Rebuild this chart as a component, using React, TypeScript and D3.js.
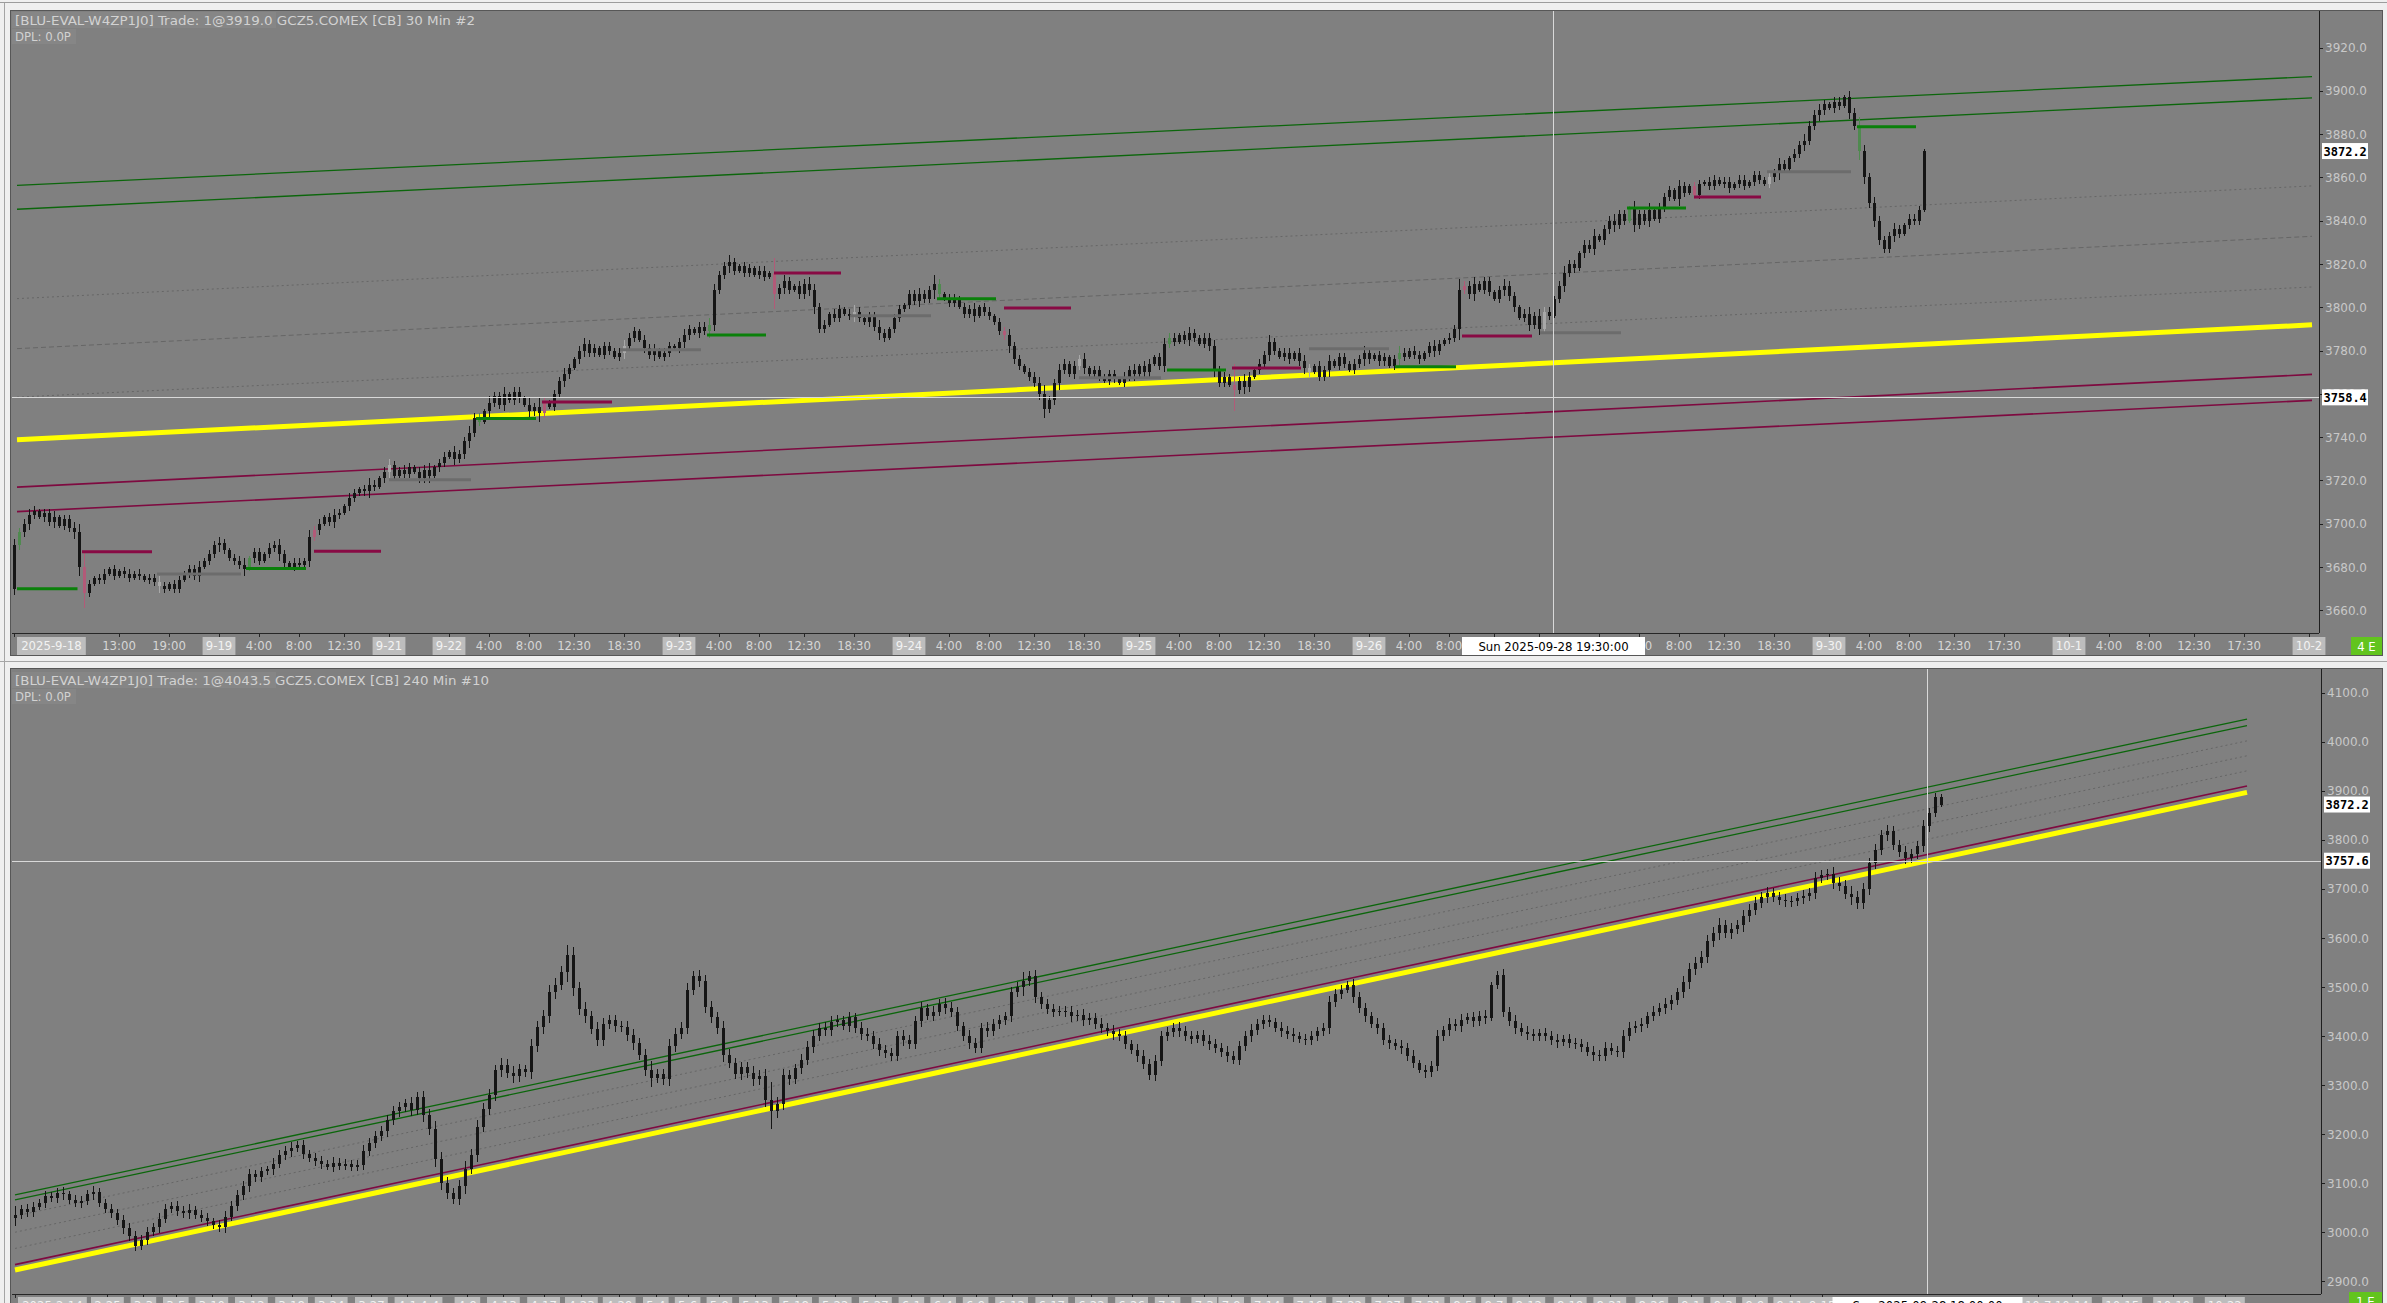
import React, { useEffect } from 'react';
import * as d3 from 'd3';

const W = 2387;
const H = 1303;

// ---------- top chart : 30 min ----------
const topTitle = '[BLU-EVAL-W4ZP1J0]  Trade: 1@3919.0  GCZ5.COMEX [CB]  30 Min  #2';
const topFirstOpen = 3670;
const topClose = [
  3690, 3696, 3700, 3704, 3706, 3703, 3705, 3701, 3703, 3699,
  3702, 3698, 3696, 3680, 3668, 3672, 3675, 3674, 3677, 3679,
  3676, 3678, 3677, 3675, 3677, 3676, 3674, 3675, 3673, 3671,
  3670, 3672, 3670, 3674, 3677, 3679, 3676, 3680, 3683, 3686,
  3690, 3691, 3688, 3684, 3683, 3681, 3679, 3684, 3687, 3683,
  3686, 3689, 3690, 3686, 3682, 3680, 3682, 3681, 3683, 3694,
  3697, 3700, 3703, 3701, 3704, 3705, 3708, 3712, 3714, 3716,
  3715, 3718, 3717, 3721, 3724, 3727, 3722, 3725, 3723, 3726,
  3724, 3721, 3725, 3722, 3726, 3728, 3731, 3733, 3730, 3732,
  3738, 3742, 3749, 3747, 3752, 3756, 3759, 3755, 3760, 3757,
  3761, 3758, 3755, 3752, 3754, 3751, 3756, 3754, 3760, 3766,
  3769, 3772, 3776, 3780, 3783, 3779, 3781, 3778, 3782, 3780,
  3777, 3779, 3782, 3786, 3789, 3785, 3781, 3778, 3780, 3777,
  3779, 3782, 3781, 3784, 3787, 3790, 3788, 3791, 3789, 3792,
  3808, 3815, 3819, 3821, 3817, 3819, 3816, 3818, 3815, 3817,
  3814, 3816, 3806, 3809, 3812, 3808, 3810, 3806, 3811, 3808,
  3800, 3790, 3792, 3797, 3795, 3799, 3797, 3796, 3798, 3795,
  3793, 3796, 3791, 3788, 3786, 3790, 3795, 3799, 3801, 3806,
  3803, 3806, 3804, 3808, 3811, 3806, 3804, 3802, 3804, 3800,
  3797, 3799, 3796, 3800, 3798, 3796, 3793, 3789, 3787, 3782,
  3776, 3773, 3770, 3768, 3765, 3760, 3753, 3757, 3765, 3771,
  3774, 3769, 3773, 3776, 3772, 3769, 3771, 3768, 3766, 3769,
  3767, 3765, 3768, 3771, 3769, 3773, 3770, 3774, 3777, 3773,
  3783, 3786, 3784, 3787, 3785, 3788, 3786, 3783, 3786, 3782,
  3771, 3765, 3768, 3764, 3762, 3766, 3763, 3768, 3771, 3774,
  3778, 3784, 3780, 3777, 3779, 3776, 3779, 3775, 3772, 3770,
  3773, 3768, 3771, 3775, 3773, 3777, 3774, 3771, 3774, 3776,
  3779, 3776, 3778, 3775, 3777, 3773, 3776, 3779, 3777, 3780,
  3778, 3776, 3779, 3782, 3780, 3783, 3785, 3786, 3790, 3808,
  3810, 3806, 3811, 3808, 3812, 3807, 3804, 3808, 3810, 3805,
  3800, 3795, 3797, 3792, 3796, 3790, 3798, 3796, 3804, 3810,
  3816, 3820, 3818, 3825, 3829, 3827, 3833, 3831, 3836, 3840,
  3838, 3843, 3840, 3846, 3838, 3843, 3840, 3845, 3841, 3846,
  3851, 3854, 3850, 3856, 3853, 3856, 3852, 3857, 3858, 3856,
  3859, 3857, 3858, 3855, 3857, 3859, 3856, 3858, 3861, 3859,
  3857, 3860, 3862, 3866, 3864, 3869, 3871, 3875, 3877, 3884,
  3889, 3891, 3894, 3892, 3895, 3893, 3897, 3890, 3884, 3872,
  3860, 3848, 3840, 3831, 3827, 3833, 3836, 3834, 3838, 3841,
  3840, 3845, 3872.2,
];
const topWick = [
  3, 2, 2, 3, 2, 1, 2, 2, 3, 1, 2, 2, 3, 4, 7, 2, 1, 2, 2, 1,
  2, 1, 2, 2, 1, 2, 1, 2, 2, 3, 2, 1, 2, 2, 1, 2, 2, 3, 1, 2,
  2, 3, 2, 1, 2, 2, 3, 1, 2, 2, 1, 2, 2, 3, 2, 1, 2, 2, 1, 3,
  2, 2, 1, 2, 3, 2, 1, 2, 2, 1, 2, 3, 2, 1, 2, 3, 2, 1, 2, 2,
  1, 2, 2, 3, 1, 2, 2, 1, 3, 2, 2, 3, 2, 2, 1, 3, 2, 2, 3, 1,
  2, 2, 1, 3, 2, 4, 2, 1, 2, 2, 3, 2, 1, 2, 3, 2, 2, 1, 2, 2,
  1, 2, 3, 2, 2, 1, 2, 2, 3, 1, 2, 2, 1, 2, 3, 2, 1, 2, 2, 3,
  3, 2, 2, 3, 2, 1, 2, 2, 1, 2, 2, 1, 7, 2, 3, 2, 1, 2, 2, 3,
  3, 2, 2, 1, 2, 2, 1, 2, 3, 2, 1, 2, 2, 3, 2, 1, 2, 2, 1, 2,
  2, 3, 2, 2, 4, 2, 1, 2, 2, 1, 2, 2, 3, 1, 2, 2, 1, 2, 2, 3,
  2, 2, 1, 2, 2, 3, 4, 2, 2, 3, 2, 1, 2, 2, 3, 1, 2, 2, 1, 2,
  2, 1, 2, 2, 3, 1, 2, 2, 1, 2, 3, 2, 2, 1, 2, 3, 2, 1, 2, 2,
  3, 2, 2, 1, 10, 2, 3, 2, 1, 2, 2, 3, 2, 1, 2, 2, 1, 2, 3, 2,
  1, 2, 2, 3, 1, 2, 2, 1, 2, 2, 3, 2, 1, 2, 2, 1, 2, 3, 2, 1,
  2, 2, 1, 2, 3, 2, 1, 2, 2, 5, 2, 2, 3, 1, 2, 2, 1, 2, 3, 2,
  2, 1, 2, 3, 2, 3, 2, 2, 1, 2, 3, 2, 2, 1, 2, 2, 3, 1, 2, 2,
  3, 2, 2, 1, 3, 2, 2, 3, 1, 2, 2, 2, 1, 3, 2, 1, 2, 2, 1, 2,
  2, 1, 2, 2, 1, 2, 2, 1, 2, 2, 1, 2, 2, 3, 2, 1, 2, 2, 3, 2,
  2, 3, 2, 1, 2, 2, 1, 3, 2, 4, 3, 2, 3, 2, 2, 2, 3, 2, 1, 2,
  2, 2, 1,
];
const topPriceTicks = [3660, 3680, 3700, 3720, 3740, 3760, 3780, 3800, 3820, 3840, 3860, 3880, 3900, 3920];
const topTimeLabels = [
  '2025-9-18', '13:00', '19:00', '9-19', '4:00', '8:00', '12:30', '9-21',
  '9-22', '4:00', '8:00', '12:30', '18:30',
  '9-23', '4:00', '8:00', '12:30', '18:30',
  '9-24', '4:00', '8:00', '12:30', '18:30',
  '9-25', '4:00', '8:00', '12:30', '18:30',
  '9-26', '4:00', '8:00', '12:30',
  '9-28', '9-29', '4:00', '8:00', '12:30', '18:30',
  '9-30', '4:00', '8:00', '12:30', '17:30',
  '10-1', '4:00', '8:00', '12:30', '17:30', '10-2',
];
const topTimeBars = [
  0, 21, 31, 41, 49, 57, 66, 75,
  87, 95, 103, 112, 122,
  133, 141, 149, 158, 168,
  179, 187, 195, 204, 214,
  225, 233, 241, 250, 260,
  271, 279, 287, 296,
  305, 317, 325, 333, 342, 352,
  363, 371, 379, 388, 398,
  411, 419, 427, 436, 446, 459,
];
// session levels: g = green, r = red, s = grey
const topLevelKind = ['g', 'r', 's', 'g', 'r', 's', 'g', 'r', 's', 'g', 'r', 's', 'g', 'r', 's', 'g', 'r', 's', 'g', 'r', 's', 'g', 'r', 's', 'g'];
const topLevelStart = [0.6, 13.6, 28.6, 46.4, 60, 75, 92.4, 105.6, 121.2, 138.6, 152, 167.2, 184.6, 198, 213, 230.6, 243.6, 259, 276.2, 289.6, 305.2, 322.6, 336, 350.6, 368.6];
const topLevelEnd = [12.7, 27.6, 45.4, 58.4, 73.4, 91.4, 104.4, 119.6, 137.4, 150.4, 165.4, 183.4, 196.4, 211.4, 229.4, 242.4, 257.4, 275, 288.4, 303.6, 321.4, 334.4, 349.4, 367.4, 380.4];
const topLevelPrice = [3670, 3687, 3676.8, 3679.3, 3687.3, 3720.3, 3748.6, 3756.3, 3780.4, 3787.2, 3815.9, 3796.1, 3804, 3799.7, 3767.5, 3771, 3772, 3780.9, 3772.5, 3786.7, 3788.2, 3845.9, 3851, 3862.6, 3883.4];
// channel lines, price at the first and last bar of the line
const topLineKind = ['green', 'green', 'dot', 'dash', 'dot', 'yellow', 'magenta', 'magenta'];
const topLineBars = [0.6, 459.6];
const topLineFrom = [3856.3, 3845.3, 3804.0, 3780.9, 3758.5, 3738.8, 3716.9, 3705.6];
const topLineTo = [3906.6, 3896.8, 3856.1, 3832.8, 3809.4, 3791.9, 3769.0, 3757.0];
const topLastPrice = 3872.2;
const topCrossPrice = 3758.4;
const topCrossBar = 307.8;
const topCrossLabel = 'Sun 2025-09-28  19:30:00';

// ---------- bottom chart : 240 min ----------
const botTitle = '[BLU-EVAL-W4ZP1J0]  Trade: 1@4043.5  GCZ5.COMEX [CB]  240 Min  #10';
const botFirstOpen = 3030;
const botClose = [
  3035, 3048, 3041, 3052, 3060, 3074, 3069, 3081, 3077, 3066,
  3060, 3064, 3078, 3082, 3060, 3047, 3039, 3024, 3008, 2992,
  2972, 2985, 3001, 3010, 3028, 3048, 3053, 3044, 3039, 3046,
  3035, 3030, 3022, 3014, 3010, 3031, 3054, 3075, 3095, 3118,
  3112, 3124, 3128, 3140, 3158, 3166, 3172, 3178, 3160, 3152,
  3146, 3139, 3134, 3142, 3136, 3140, 3133, 3138, 3165, 3183,
  3196, 3207, 3228, 3247, 3255, 3263, 3250, 3275, 3239, 3210,
  3150, 3100, 3080, 3068, 3094, 3130, 3158, 3215, 3252, 3280,
  3330, 3342, 3325, 3318, 3332, 3326, 3380, 3418, 3441, 3490,
  3505, 3530, 3565, 3498, 3455, 3440, 3415, 3392, 3425, 3433,
  3420, 3418, 3402, 3385, 3362, 3330, 3315, 3322, 3312, 3380,
  3405, 3417, 3495, 3522, 3512, 3460, 3438, 3417, 3362, 3345,
  3322, 3336, 3325, 3312, 3318, 3270, 3248, 3262, 3320, 3312,
  3334, 3352, 3378, 3400, 3417, 3412, 3428, 3433, 3420, 3438,
  3417, 3405, 3400, 3384, 3372, 3365, 3360, 3400, 3392, 3384,
  3430, 3457, 3441, 3450, 3465, 3458, 3449, 3420, 3400, 3385,
  3376, 3417, 3410, 3425, 3433, 3440, 3489, 3500, 3513, 3522,
  3480, 3465, 3455, 3449, 3452, 3449, 3440, 3444, 3432, 3437,
  3425, 3417, 3410, 3405, 3400, 3384, 3372, 3360, 3344, 3320,
  3350, 3400, 3408, 3417, 3410, 3400, 3395, 3402, 3390, 3384,
  3376, 3368, 3360, 3352, 3380, 3400, 3412, 3425, 3433, 3428,
  3417, 3410, 3404, 3400, 3395, 3392, 3400, 3410, 3417, 3470,
  3485, 3495, 3505, 3480, 3457, 3440, 3425, 3417, 3392, 3385,
  3380, 3376, 3360, 3345, 3330, 3326, 3340, 3400, 3412, 3425,
  3420, 3433, 3438, 3430, 3441, 3437, 3505, 3525, 3449, 3430,
  3417, 3409, 3404, 3400, 3406, 3400, 3392, 3388, 3394, 3386,
  3384, 3378, 3368, 3362, 3360, 3376, 3370, 3368, 3400, 3417,
  3421, 3425, 3441, 3450, 3457, 3465, 3473, 3489, 3510, 3537,
  3550, 3562, 3594, 3610, 3626, 3610, 3618, 3626, 3645, 3658,
  3672, 3683, 3691, 3684, 3678, 3675, 3675, 3682, 3686, 3691,
  3723, 3728, 3731, 3712, 3707, 3690, 3683, 3672, 3700, 3752,
  3780, 3810, 3818, 3790, 3775, 3763, 3771, 3787, 3828, 3855,
  3888, 3872.2,
];
const botWick = [
  18, 8, 10, 9, 7, 10, 8, 9, 11, 8, 9, 10, 8, 12, 9, 8, 10, 9, 11, 10,
  11, 9, 10, 8, 12, 9, 8, 10, 9, 11, 8, 10, 9, 8, 10, 12, 9, 11, 10, 12,
  9, 10, 8, 11, 9, 10, 12, 9, 11, 8, 10, 9, 8, 11, 9, 10, 8, 9, 12, 10,
  11, 9, 12, 10, 11, 9, 12, 10, 14, 12, 16, 14, 12, 10, 13, 15, 12, 14, 11, 13,
  12, 14, 11, 13, 12, 10, 14, 12, 13, 15, 14, 12, 20, 16, 12, 14, 11, 13, 12, 10,
  11, 10, 12, 13, 11, 12, 19, 10, 11, 14, 12, 11, 13, 11, 12, 13, 11, 12, 14, 11,
  10, 12, 11, 13, 12, 14, 37, 14, 12, 11, 10, 12, 11, 13, 10, 11, 12, 10, 7, 11,
  10, 12, 11, 10, 12, 9, 11, 10, 12, 11, 10, 12, 9, 11, 10, 12, 11, 10, 9, 12,
  11, 10, 12, 9, 11, 10, 12, 10, 18, 11, 12, 9, 10, 11, 9, 10, 12, 9, 11, 10,
  10, 11, 9, 12, 10, 11, 9, 12, 11, 10, 12, 11, 10, 9, 12, 10, 11, 9, 10, 12,
  11, 10, 12, 9, 11, 10, 12, 9, 11, 10, 9, 11, 10, 12, 9, 10, 11, 9, 10, 12,
  11, 10, 8, 12, 10, 11, 9, 12, 10, 11, 9, 12, 10, 11, 6, 11, 10, 12, 9, 11,
  10, 12, 9, 11, 10, 12, 6, 8, 11, 10, 12, 9, 11, 10, 9, 11, 10, 12, 9, 11,
  10, 11, 9, 12, 10, 11, 9, 10, 12, 11, 10, 12, 9, 11, 10, 12, 11, 10, 12, 13,
  12, 11, 13, 12, 14, 11, 12, 10, 13, 12, 11, 10, 12, 11, 10, 12, 11, 10, 12, 11,
  12, 11, 10, 13, 12, 11, 16, 12, 13, 12, 11, 10, 12, 11, 10, 12, 11, 10, 12, 11,
  8, 6,
];
const botPriceTicks = [2900, 3000, 3100, 3200, 3300, 3400, 3500, 3600, 3700, 3800, 3900, 4000, 4100];
const botTimeLabels = [
  '2025-2-14', '2-25', '3-3', '3-5', '3-10', '3-12', '3-18', '3-24', '3-27', '4-1',
  '4-4', '4-9', '4-13', '4-17', '4-23', '4-29', '5-4', '5-6', '5-9', '5-13',
  '5-18', '5-22', '5-27', '6-1', '6-4', '6-9', '6-12', '6-17', '6-22', '6-26',
  '7-1', '7-3', '7-9', '7-14', '7-16', '7-22', '7-27', '7-31', '8-5', '8-7',
  '8-12', '8-19', '8-21', '8-26', '9-1', '9-3', '9-9', '9-11', '9-15',
  '10-7', '10-14', '10-15', '10-19', '10-22',
];
const botTimePos = [
  0, 15.4, 21.4, 26.8, 32.8, 39.4, 46.1, 52.7, 59.4, 65.4,
  69.1, 75.4, 81.4, 88.1, 94.4, 100.7, 106.8, 112.1, 117.4, 123.4,
  130.1, 136.7, 143.4, 149.4, 154.7, 160.1, 166.1, 172.8, 179.4, 186.1,
  192.1, 198.2, 202.7, 208.7, 215.8, 222.3, 228.8, 235.5, 241.3, 246.5,
  252.3, 259.2, 265.8, 272.8, 279.3, 284.7, 290, 295.8, 301.2,
  337.2, 342.8, 351.2, 359.7, 368.3,
];
const botLineKind = ['green', 'green', 'dot', 'dot', 'dot', 'magenta', 'yellow'];
const botLinePos = [0, 372];
const botLineFrom = [3076, 3066, 3033, 3000, 2967, 2934, 2923];
const botLineTo = [4046.5, 4033, 4002, 3971.6, 3940.9, 3910, 3897];
const botLastPrice = 3872.2;
const botCrossPrice = 3757.6;
const botCrossPos = 318.7;
const botCrossLabel = 'Sun 2025-09-28  18:00:00';

const NARROW = '"DejaVu Sans Condensed", "Liberation Sans Narrow", "Arial Narrow", sans-serif';
const CANDLE = '#151515';
const CROSS = '#d9d9d9';

const lineStyle: Record<string, { stroke: string; width: number; dash?: string }> = {
  green: { stroke: '#0b660b', width: 1.3 },
  magenta: { stroke: '#7e0a40', width: 1.6 },
  dot: { stroke: '#666666', width: 1, dash: '2,3' },
  dash: { stroke: '#666666', width: 1, dash: '5,3' },
  yellow: { stroke: '#ffff00', width: 5 },
};
const levelColor: Record<string, string> = { g: '#0a800a', r: '#880a44', s: '#6c6c6c' };
const sessionBarColor: Record<string, string> = { g: '#4f8a4f', r: '#b25a78', s: '#a8a8a8' };

type Scale = d3.ScaleLinear<number, number>;

function Candles({ closes, wicks, firstOpen, x, y, bodyW, tint }: {
  closes: number[]; wicks: number[]; firstOpen: number; x: Scale; y: Scale; bodyW: number; tint?: Map<number, string>;
}) {
  return (
    <g shapeRendering="crispEdges">
      {closes.map((c, i) => {
        const o = i === 0 ? firstOpen : closes[i - 1];
        const w = wicks[i] ?? 2;
        const hi = Math.max(o, c);
        const lo = Math.min(o, c);
        const cx = Math.round(x(i)) + 0.5;
        const col = tint?.get(i) ?? CANDLE;
        const yTop = y(hi);
        const yBot = y(lo);
        return (
          <g key={i}>
            <line x1={cx} x2={cx} y1={y(hi + w)} y2={y(lo - w)} stroke={col} strokeWidth={1} />
            <rect x={cx - bodyW / 2} y={yTop} width={bodyW} height={Math.max(1, yBot - yTop)} fill={col} />
          </g>
        );
      })}
    </g>
  );
}

function Channels({ kinds, from, to, span, x, y }: {
  kinds: string[]; from: number[]; to: number[]; span: number[]; x: Scale; y: Scale;
}) {
  // thin lines first, the thick yellow one on top
  const order = kinds.map((k, i) => i).sort((a, b) => (kinds[a] === 'yellow' ? 1 : 0) - (kinds[b] === 'yellow' ? 1 : 0));
  return (
    <g>
      {order.map(i => {
        const s = lineStyle[kinds[i]];
        return (
          <line key={i} x1={x(span[0])} x2={x(span[1])} y1={y(from[i])} y2={y(to[i])}
            stroke={s.stroke} strokeWidth={s.width} strokeDasharray={s.dash} />
        );
      })}
    </g>
  );
}

function PriceAxis({ ticks, y, axisX, top, bottom, tags }: {
  ticks: number[]; y: Scale; axisX: number; top: number; bottom: number; tags: number[];
}) {
  return (
    <g>
      <line x1={axisX + 0.5} x2={axisX + 0.5} y1={top} y2={bottom} stroke="#1e1e1e" strokeWidth={1} />
      {ticks.map(t => (
        <g key={t}>
          <line x1={axisX} x2={axisX + 4} y1={Math.round(y(t)) + 0.5} y2={Math.round(y(t)) + 0.5} stroke="#1e1e1e" />
          <text x={axisX + 6} y={y(t) + 4.5} fontFamily='"DejaVu Sans", Verdana, sans-serif' fontSize={12} fill="#c8c8c8">
            {t.toFixed(1)}
          </text>
        </g>
      ))}
      {tags.map(p => (
        <g key={p}>
          <rect x={axisX + 3} y={y(p) - 8} width={46} height={16} fill="#ffffff" />
          <text x={axisX + 4.5} y={y(p) + 4.5} fontFamily='"DejaVu Sans Mono", monospace' fontWeight="bold" fontSize={12} fill="#000000">
            {p.toFixed(1)}
          </text>
        </g>
      ))}
    </g>
  );
}

const labelWidth = (label: string) => label.length * 7.2 + 4;

function TimeLabel({ x, label, y, first }: { x: number; label: string; y: number; first?: boolean }) {
  const isDate = label.includes('-');
  const w = labelWidth(label);
  const left = first ? x + 3 : x - w / 2;
  return (
    <g>
      {isDate && <rect x={left} y={y - 13} width={w} height={18} fill="#bdbdbd" />}
      <text x={left + w / 2} y={y} textAnchor="middle" fontFamily={NARROW} fontSize={13}
        fill={isDate ? '#f2f2f2' : '#d6d6d6'}>{label}</text>
    </g>
  );
}

function Header({ title, y0, titleW }: { title: string; y0: number; titleW: number }) {
  return (
    <g>
      <rect x={12} y={y0} width={264} height={16} fill="#868686" />
      <rect x={12} y={y0 + 17} width={64} height={15} fill="#868686" />
      <text x={15} y={y0 + 13} fontFamily={NARROW} fontSize={13} fill="#d2d2d2"
        textLength={titleW} lengthAdjust="spacingAndGlyphs">{title}</text>
      <text x={15} y={y0 + 29} fontFamily={NARROW} fontSize={13} fill="#d2d2d2">DPL: 0.0P</text>
    </g>
  );
}

export default function App() {
  useEffect(() => {
    document.body.style.margin = '0';
    document.body.style.overflow = 'hidden';
  }, []);

  // top geometry
  const tx = d3.scaleLinear().domain([0, 461]).range([14, 2319]);
  const ty = d3.scaleLinear().domain([3660, 3920]).range([610.3, 47.6]);
  // bottom geometry
  const bx = d3.scaleLinear().domain([0, 384.5]).range([15, 2322]);
  const by = d3.scaleLinear().domain([2900, 4100]).range([1281.3, 692.8]);

  const topTint = new Map<number, string>();
  topLevelStart.forEach((s, k) => topTint.set(Math.ceil(s), sessionBarColor[topLevelKind[k]]));

  const topCrossX = Math.round(tx(topCrossBar)) + 0.5;
  const botCrossX = Math.round(bx(botCrossPos)) + 0.5;
  const topBoxW = 183;
  const botBoxW = 190;

  // time labels fully hidden under the crosshair time box are not shown
  const hiddenUnder = (cx: number, boxW: number, x: number, label: string) => {
    const w = labelWidth(label);
    return x - w / 2 >= cx - boxW / 2 && x + w / 2 <= cx + boxW / 2;
  };

  return (
    <div style={{ position: 'fixed', left: 0, top: 0, width: W, height: H }}>
      <svg width={W} height={H} viewBox={`0 0 ${W} ${H}`} style={{ display: 'block' }}>
        <defs>
          <clipPath id="clipTop"><rect x={11} y={11} width={2308} height={622} /></clipPath>
          <clipPath id="clipBot"><rect x={11} y={669} width={2310} height={625} /></clipPath>
          <clipPath id="clipTopAxis"><rect x={11} y={634} width={2330} height={21} /></clipPath>
        </defs>

        {/* window frame */}
        <rect width={W} height={H} fill="#efefef" />
        <line x1={0} x2={W} y1={2.5} y2={2.5} stroke="#9c9c9c" />
        <line x1={4.5} x2={4.5} y1={3} y2={H} stroke="#a4a4a4" />
        <line x1={0} x2={W} y1={661.5} y2={661.5} stroke="#a6a6a6" />

        {/* ---------- top panel ---------- */}
        <rect x={10.5} y={10.5} width={2372} height={645} fill="#808080" stroke="#575757" />
        <Header title={topTitle} y0={12} titleW={460} />
        <g clipPath="url(#clipTop)">
          <Channels kinds={topLineKind} from={topLineFrom} to={topLineTo} span={topLineBars} x={tx} y={ty} />
          <Candles closes={topClose} wicks={topWick} firstOpen={topFirstOpen} x={tx} y={ty} bodyW={3} tint={topTint} />
          {topLevelKind.map((k, i) => (
            <line key={i} x1={tx(topLevelStart[i])} x2={tx(topLevelEnd[i])}
              y1={ty(topLevelPrice[i])} y2={ty(topLevelPrice[i])} stroke={levelColor[k]} strokeWidth={3} />
          ))}
          <line x1={12} x2={2319} y1={Math.round(ty(topCrossPrice)) + 0.5} y2={Math.round(ty(topCrossPrice)) + 0.5} stroke={CROSS} />
          <line x1={topCrossX} x2={topCrossX} y1={11} y2={633} stroke={CROSS} />
        </g>
        <PriceAxis ticks={topPriceTicks} y={ty} axisX={2319} top={11} bottom={633} tags={[topLastPrice, topCrossPrice]} />
        <line x1={12} x2={2319} y1={633.5} y2={633.5} stroke="#262626" />
        {topTimeBars.map((b, i) => (
          <line key={i} x1={Math.round(tx(b)) + 0.5} x2={Math.round(tx(b)) + 0.5} y1={633} y2={637} stroke="#262626" />
        ))}
        <g clipPath="url(#clipTopAxis)">
          {topTimeBars.map((b, i) => hiddenUnder(topCrossX, topBoxW, tx(b), topTimeLabels[i]) ? null : (
            <TimeLabel key={i} x={tx(b)} label={topTimeLabels[i]} y={650} first={i === 0} />
          ))}
          <rect x={topCrossX - topBoxW / 2} y={637} width={topBoxW} height={18} fill="#ffffff" />
          <text x={topCrossX} y={651} textAnchor="middle" fontFamily={NARROW} fontSize={13} fill="#000000">{topCrossLabel}</text>
        </g>
        <rect x={2351} y={637} width={31} height={18} fill="#62c41e" />
        <text x={2366.5} y={651} textAnchor="middle" fontFamily={NARROW} fontSize={13} fill="#ffffff">4 E</text>

        {/* ---------- bottom panel ---------- */}
        <rect x={10.5} y={668.5} width={2372} height={640} fill="#808080" stroke="#575757" />
        <Header title={botTitle} y0={672} titleW={474} />
        <g clipPath="url(#clipBot)">
          <Channels kinds={botLineKind} from={botLineFrom} to={botLineTo} span={botLinePos} x={bx} y={by} />
          <Candles closes={botClose} wicks={botWick} firstOpen={botFirstOpen} x={bx} y={by} bodyW={3} />
          <line x1={12} x2={2321} y1={Math.round(by(botCrossPrice)) + 0.5} y2={Math.round(by(botCrossPrice)) + 0.5} stroke={CROSS} />
          <line x1={botCrossX} x2={botCrossX} y1={669} y2={1294} stroke={CROSS} />
        </g>
        <PriceAxis ticks={botPriceTicks} y={by} axisX={2321} top={669} bottom={1294} tags={[botLastPrice, botCrossPrice]} />
        <line x1={12} x2={2321} y1={1294.5} y2={1294.5} stroke="#262626" />
        {botTimePos.map((p, i) => (
          <g key={i}>
            <line x1={Math.round(bx(p)) + 0.5} x2={Math.round(bx(p)) + 0.5} y1={1294} y2={1298} stroke="#262626" />
            <TimeLabel x={bx(p)} label={botTimeLabels[i]} y={1310} first={i === 0} />
          </g>
        ))}
        <rect x={botCrossX - botBoxW / 2} y={1297} width={botBoxW} height={18} fill="#ffffff" />
        <text x={botCrossX} y={1310} textAnchor="middle" fontFamily={NARROW} fontSize={13} fill="#000000">{botCrossLabel}</text>
        <rect x={2349} y={1292} width={33} height={18} fill="#62c41e" />
        <text x={2365.5} y={1306} textAnchor="middle" fontFamily={NARROW} fontSize={13} fill="#ffffff">1 E</text>
      </svg>
    </div>
  );
}
